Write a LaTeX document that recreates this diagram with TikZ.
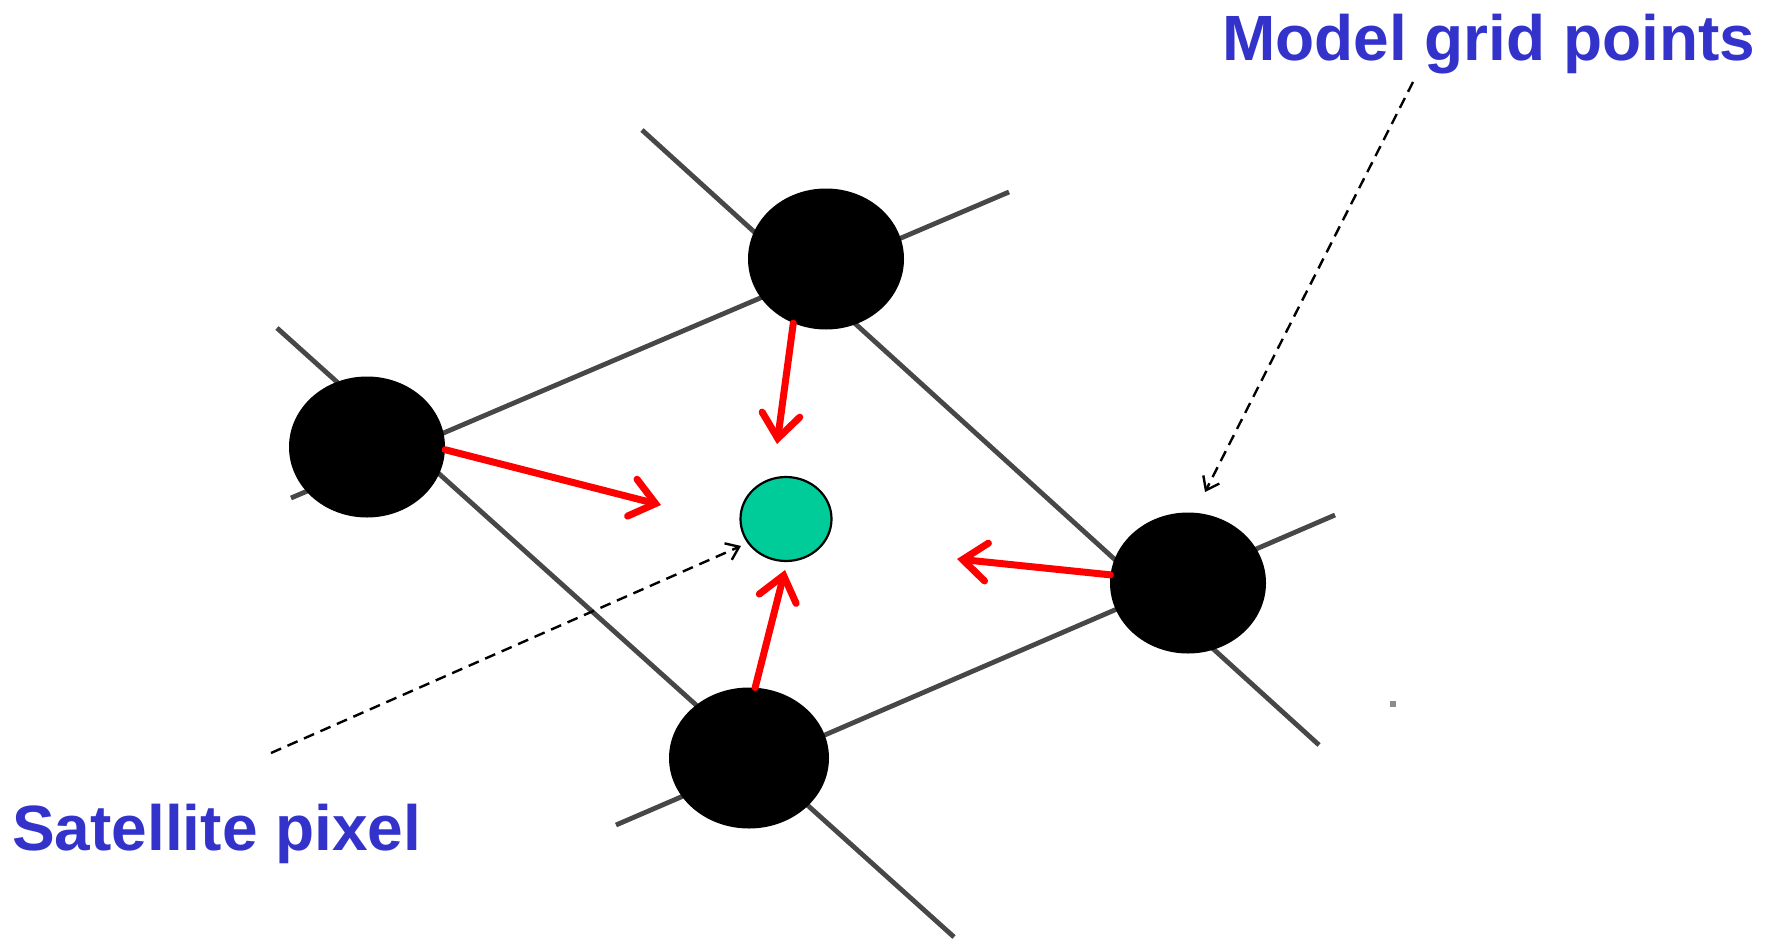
\documentclass[tikz,border=0pt]{standalone}
\usepackage{fontspec}
\newfontfamily\labelfont{Liberation Sans}
\usepackage{tikz}
\usetikzlibrary{
    arrows.meta,
    shapes.geometric
}
\definecolor{labelblue}{RGB}{51,51,204}
\definecolor{pixelgreen}{RGB}{0,204,153}
\tikzset
{
  gridpoint/.style={shape=ellipse,fill=black,inner sep=0pt,minimum width=156pt,minimum height=141pt},
  satpixel/.style={shape=ellipse,draw=black,line width=2.2pt,fill=pixelgreen,inner sep=0pt,minimum width=91pt,minimum height=84pt},
  gridline/.style={draw=black!72,line width=4.8pt},
  weight/.style={draw=red,line width=7pt,line cap=round,-{Straight Barb[length=24pt,width=38pt,line cap=round]}},
  pointer/.style={draw=black,line width=2.4pt,dash pattern=on 11pt off 7pt,-{Straight Barb[length=12pt,width=18pt]}},
  callout/.style={text=labelblue,inner sep=0pt,font=\labelfont\bfseries\fontsize{64}{70}\selectfont}
}

\begin{document}
\begin{tikzpicture}[x=1pt,y=-1pt]

    \useasboundingbox (0,0) rectangle (1771,942);

    % Draw the model grid lines
    \draw[gridline] (291,498) -- (1009,192);
    \draw[gridline] (277,328) -- (954,937);
    \draw[gridline] (642,130) -- (1319,745);
    \draw[gridline] (616,825) -- (1335,515);

    % Draw the model grid points
    \node[gridpoint] (gtop) at (826,259) {};
    \node[gridpoint] (gleft) at (367,447) {};
    \node[gridpoint] (gright) at (1188,583) {};
    \node[gridpoint, minimum width=160pt] (gbot) at (749,758) {};

    % Draw the satellite pixel
    \node[satpixel] (pix) at (786,519) {};

    % Draw the interpolation arrows
    \coordinate (tiptop) at (777,444);
    \coordinate (tipleft) at (661,505);
    \coordinate (tipright) at (957,559);
    \coordinate (tipbot) at (785,570);
    \draw[weight] (gtop.243) -- (tiptop);
    \draw[weight] (gleft.-2) -- (tipleft);
    \draw[weight] (gright.174) -- (tipright);
    \draw[weight] (gbot.85) -- (tipbot);

    % Draw the labels and their pointers
    \node[callout, anchor=base west] (gridlabel) at (1222,60) {Model grid points};
    \node[callout, anchor=base west] (pixlabel) at (12,850) {Satellite pixel};
    \coordinate (gridfrom) at (1413,82);
    \coordinate (gridto) at (1205,492);
    \coordinate (pixfrom) at (271,753);
    \draw[pointer] (gridfrom) -- (gridto);
    \draw[pointer, shorten >=7pt] (pixfrom) -- (pix.212);

    % Stray dot
    \fill[black!45] (1390,701) rectangle (1396,707);

\end{tikzpicture}
\end{document}
